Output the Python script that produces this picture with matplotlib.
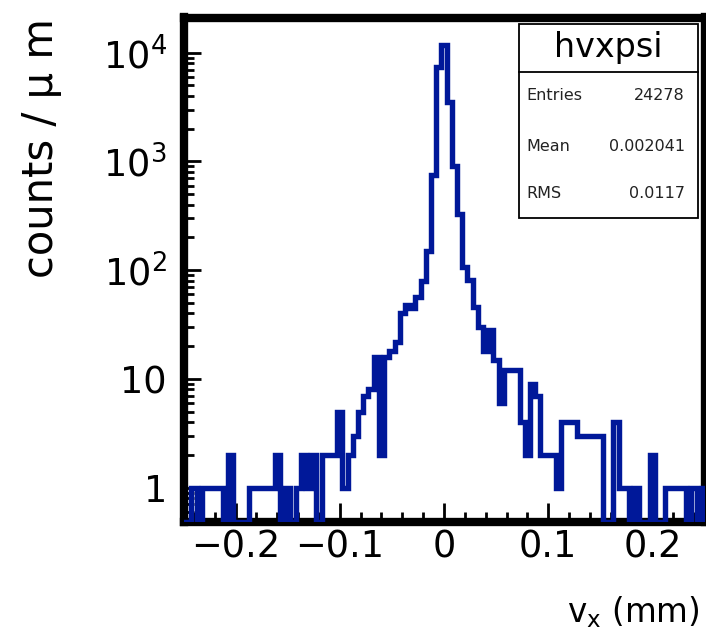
import numpy as np
import matplotlib
matplotlib.use('Agg')
import matplotlib.pyplot as plt
from matplotlib.patches import Rectangle
from matplotlib.lines import Line2D
from matplotlib.ticker import FixedLocator, LogLocator, NullFormatter

plt.rcParams['font.family'] = ['DejaVu Sans']
plt.rcParams['mathtext.fontset'] = 'dejavusans'

# histogram hvxpsi: 101 bins of 5 um, centred on multiples of 0.005 mm
bin_lo = -0.2525
bin_width = 0.005
counts = [0, 0, 1, 0, 1, 1, 1, 1, 0, 2,
          0, 0, 0, 1, 1, 1, 1, 1, 2, 0,
          1, 0, 1, 2, 1, 2, 0, 2, 2, 2,
          5, 1, 2, 3, 5, 7, 8, 16, 2, 16,
          18, 22, 40, 48, 45, 57, 80, 150, 750, 7400,
          11800, 3500, 900, 330, 107, 81, 46, 30, 18, 28,
          15, 6, 12, 12, 12, 4, 2, 9, 7, 2,
          2, 2, 1, 4, 4, 4, 3, 3, 3, 3,
          3, 0, 0, 4, 1, 1, 0, 1, 0, 0,
          2, 0, 0, 1, 1, 1, 1, 0, 1, 0,
          1]

x_ticks = [-0.2, -0.1, 0, 0.1, 0.2]
x_ticklabels = ['\u22120.2', '\u22120.1', '0', '0.1', '0.2']
y_ticks = [1, 10, 100, 1000, 10000]
y_ticklabels = ['1', '10', r'$\mathregular{10^{2}}$', r'$\mathregular{10^{3}}$', r'$\mathregular{10^{4}}$']

stats_name = 'hvxpsi'
stats_rows = [('Entries', '24278'), ('Mean', '0.002041'), ('RMS', '0.0117')]

W, H = 706, 641
ymin, ymax = 0.482, 21100
blue = '#001899'

fig = plt.figure(figsize=(W / 100, H / 100), dpi=100)
ax = fig.add_axes([183.5 / W, 1 - 522 / H, 521 / W, 504.5 / H])
ax.set_yscale('log')

edges = bin_lo + bin_width * np.arange(len(counts) + 1)
vals = np.asarray(counts, dtype=float)
# empty bins are drawn on the bottom of the frame, like ROOT does
vals = np.where(vals > 0, vals, ymin)
ax.stairs(vals, edges, baseline=None, color=blue, linewidth=3.9, zorder=3)

ax.set_xlim(-0.25, 0.25)
ax.set_ylim(ymin, ymax)

for s in ax.spines.values():
    s.set_linewidth(6)
    s.set_zorder(2.5)

ax.xaxis.set_major_locator(FixedLocator(x_ticks))
ax.xaxis.set_minor_locator(FixedLocator(np.arange(-0.24, 0.241, 0.02)))
ax.set_xticklabels(x_ticklabels)
ax.yaxis.set_major_locator(FixedLocator(y_ticks))
ax.yaxis.set_minor_locator(LogLocator(base=10, subs=np.arange(2, 10) * 0.1, numticks=20))
ax.yaxis.set_minor_formatter(NullFormatter())
ax.set_yticklabels(y_ticklabels)

ax.tick_params(axis='both', which='both', direction='in', top=False, right=False, width=2)
ax.tick_params(axis='x', which='major', length=13.5, labelsize=26.5, pad=5)
ax.tick_params(axis='x', which='minor', length=7)
ax.tick_params(axis='y', which='major', length=12, labelsize=26.5, pad=12)
ax.tick_params(axis='y', which='minor', length=7)

fig.text(41 / W, 1 - 18 / H, 'counts / \u03bc m', rotation=90, ha='center', va='top', fontsize=30)
fig.text(700 / W, 1 - 612 / H, r'$\mathregular{v_{x}}$ (mm)', ha='right', va='center', fontsize=23.5)

# stats box
bx0, bx1 = 518.5 / W, 697.5 / W
by0, by1 = 1 - 218 / H, 1 - 24 / H
fig.add_artist(Rectangle((bx0, by0), bx1 - bx0, by1 - by0, transform=fig.transFigure,
                         facecolor='white', edgecolor='black', linewidth=1.3, zorder=5))
fig.add_artist(Line2D([bx0, bx1], [1 - 71.7 / H] * 2, transform=fig.transFigure,
                      color='black', linewidth=1.3, zorder=6))
fig.text(608 / W, 1 - 48 / H, stats_name, ha='center', va='center', fontsize=24, zorder=7)
row_y = [95, 146.7, 193]
for (name, value), yy in zip(stats_rows, row_y):
    fig.text(526.7 / W, 1 - yy / H, name, ha='left', va='center', fontsize=11.5, zorder=7,
             color='#222222')
    fig.text(685 / W, 1 - yy / H, value, ha='right', va='center', fontsize=11.5, zorder=7,
             color='#222222')

fig.savefig('out.png', dpi=100)
